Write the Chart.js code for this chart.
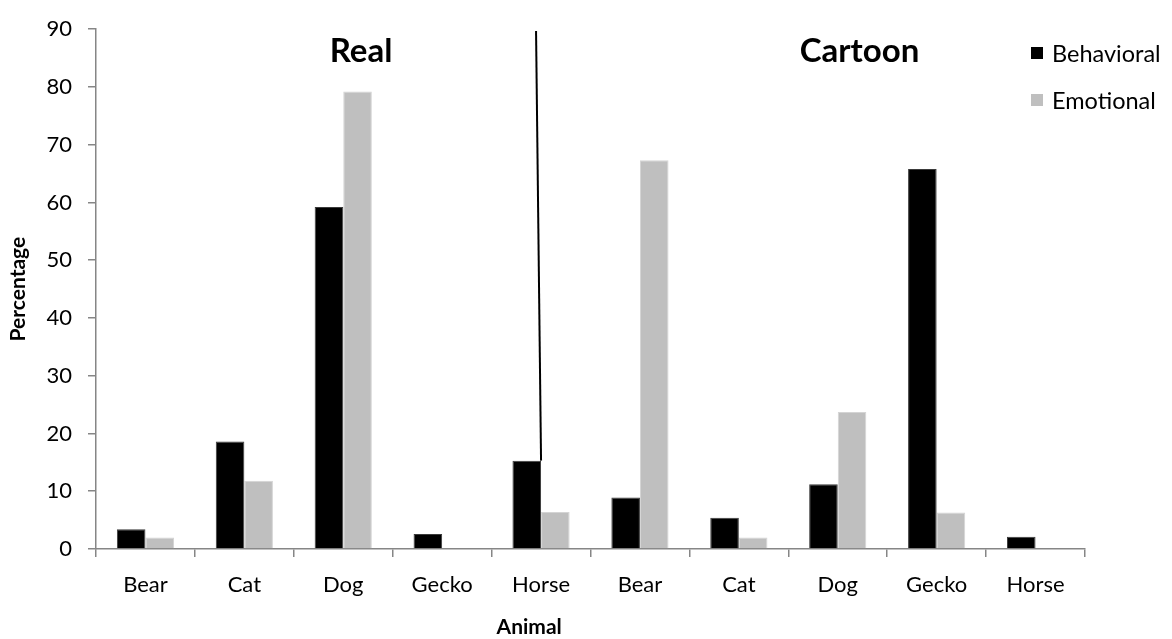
<!DOCTYPE html>
<html>
<head>
<meta charset="utf-8">
<title>Behavioral and emotional descriptions by animal</title>
<script src="https://cdn.jsdelivr.net/npm/chart.js@4.4.1/dist/chart.umd.min.js"></script>
<style>
  html, body { margin: 0; padding: 0; background: #ffffff; }
  #wrap { width: 1172px; height: 639px; }
</style>
</head>
<body>
<div id="wrap"><canvas id="chart" width="1172" height="639"></canvas></div>
<script>
// Animals shown for each presentation type (Real first, then Cartoon)
const categories = ['Bear', 'Cat', 'Dog', 'Gecko', 'Horse', 'Bear', 'Cat', 'Dog', 'Gecko', 'Horse'];
const groupLabels = ['Real', 'Cartoon'];
const seriesNames = ['Behavioral', 'Emotional'];
// Percentage of descriptions per animal
const behavioral = [3.4, 18.6, 59.2, 2.6, 15.3, 8.9, 5.4, 11.2, 65.8, 2.1];
const emotional  = [2.0, 11.8, 79.2, 0, 6.4, 67.3, 2.0, 23.7, 6.3, 0];
// Value axis range
const yMin = 0;
const yMax = 90;
const yStep = 10;

const FONT = 'Lato, "Open Sans", "DejaVu Sans", sans-serif';
const AXIS = '#868686';
const COLORS = ['#000000', '#bfbfbf'];

// Extra drawings: group headings, divider between groups, x title and legend
const decorations = {
  id: 'decorations',
  afterDraw(chart) {
    const { ctx, chartArea: a, scales: { x, y } } = chart;
    ctx.save();

    // divider between the Real and Cartoon groups
    const splitIdx = 4;
    ctx.strokeStyle = '#000000';
    ctx.lineWidth = 2;
    ctx.beginPath();
    ctx.moveTo(x.getPixelForValue(splitIdx) - 5, y.getPixelForValue(89.7));
    ctx.lineTo(x.getPixelForValue(splitIdx), y.getPixelForValue(behavioral[splitIdx]));
    ctx.stroke();

    // group headings
    ctx.fillStyle = '#000000';
    ctx.font = 'bold 33px ' + FONT;
    ctx.textAlign = 'center';
    ctx.textBaseline = 'middle';
    ctx.fillText(groupLabels[0], a.left + a.width * 0.268, 51);
    ctx.fillText(groupLabels[1], a.left + a.width * 0.772, 51);

    // x axis title
    ctx.font = 'bold 21px ' + FONT;
    ctx.fillText('Animal', a.left + a.width * 0.438, 627);

    // legend
    ctx.font = '23.5px ' + FONT;
    ctx.textAlign = 'left';
    seriesNames.forEach((name, i) => {
      const cy = 53 + i * 47;
      ctx.fillStyle = COLORS[i];
      ctx.fillRect(1031, cy - 6, 12, 12);
      ctx.fillStyle = '#000000';
      ctx.fillText(name, 1052, cy + 1);
    });

    ctx.restore();
  }
};

new Chart(document.getElementById('chart'), {
  type: 'bar',
  data: {
    labels: categories,
    datasets: [
      { label: seriesNames[0], data: behavioral, backgroundColor: COLORS[0], borderColor: '#3a3a3a', borderWidth: 1 },
      { label: seriesNames[1], data: emotional, backgroundColor: COLORS[1], borderColor: '#d4d4d4', borderWidth: 1 }
    ]
  },
  options: {
    responsive: false,
    animation: false,
    devicePixelRatio: 1,
    layout: { padding: { left: 0, right: 87, top: 19, bottom: 0 } },
    datasets: { bar: { categoryPercentage: 0.578, barPercentage: 1.0 } },
    plugins: {
      legend: { display: false },
      title: { display: false },
      tooltip: { enabled: false }
    },
    scales: {
      x: {
        offset: true,
        grid: { offset: true, drawOnChartArea: false, color: AXIS, lineWidth: 1.5, tickLength: 8 },
        border: { color: AXIS, width: 1.5 },
        ticks: { color: '#000000', font: { family: FONT, size: 22 }, padding: 15, maxRotation: 0, autoSkip: false },
        afterFit(s) { s.height = 90; }
      },
      y: {
        min: yMin,
        max: yMax,
        grid: { drawOnChartArea: false, color: AXIS, lineWidth: 1.5, tickLength: 8 },
        border: { color: AXIS, width: 1.5 },
        ticks: { stepSize: yStep, color: '#000000', font: { family: FONT, size: 22 }, padding: 16 },
        title: {
          display: true,
          text: 'Percentage',
          color: '#000000',
          font: { family: FONT, size: 21, weight: 'bold', lineHeight: 1.2 },
          padding: { top: 6, bottom: 0 }
        },
        afterFit(s) { s.width = 96; }
      }
    }
  },
  plugins: [decorations]
});
</script>
</body>
</html>
